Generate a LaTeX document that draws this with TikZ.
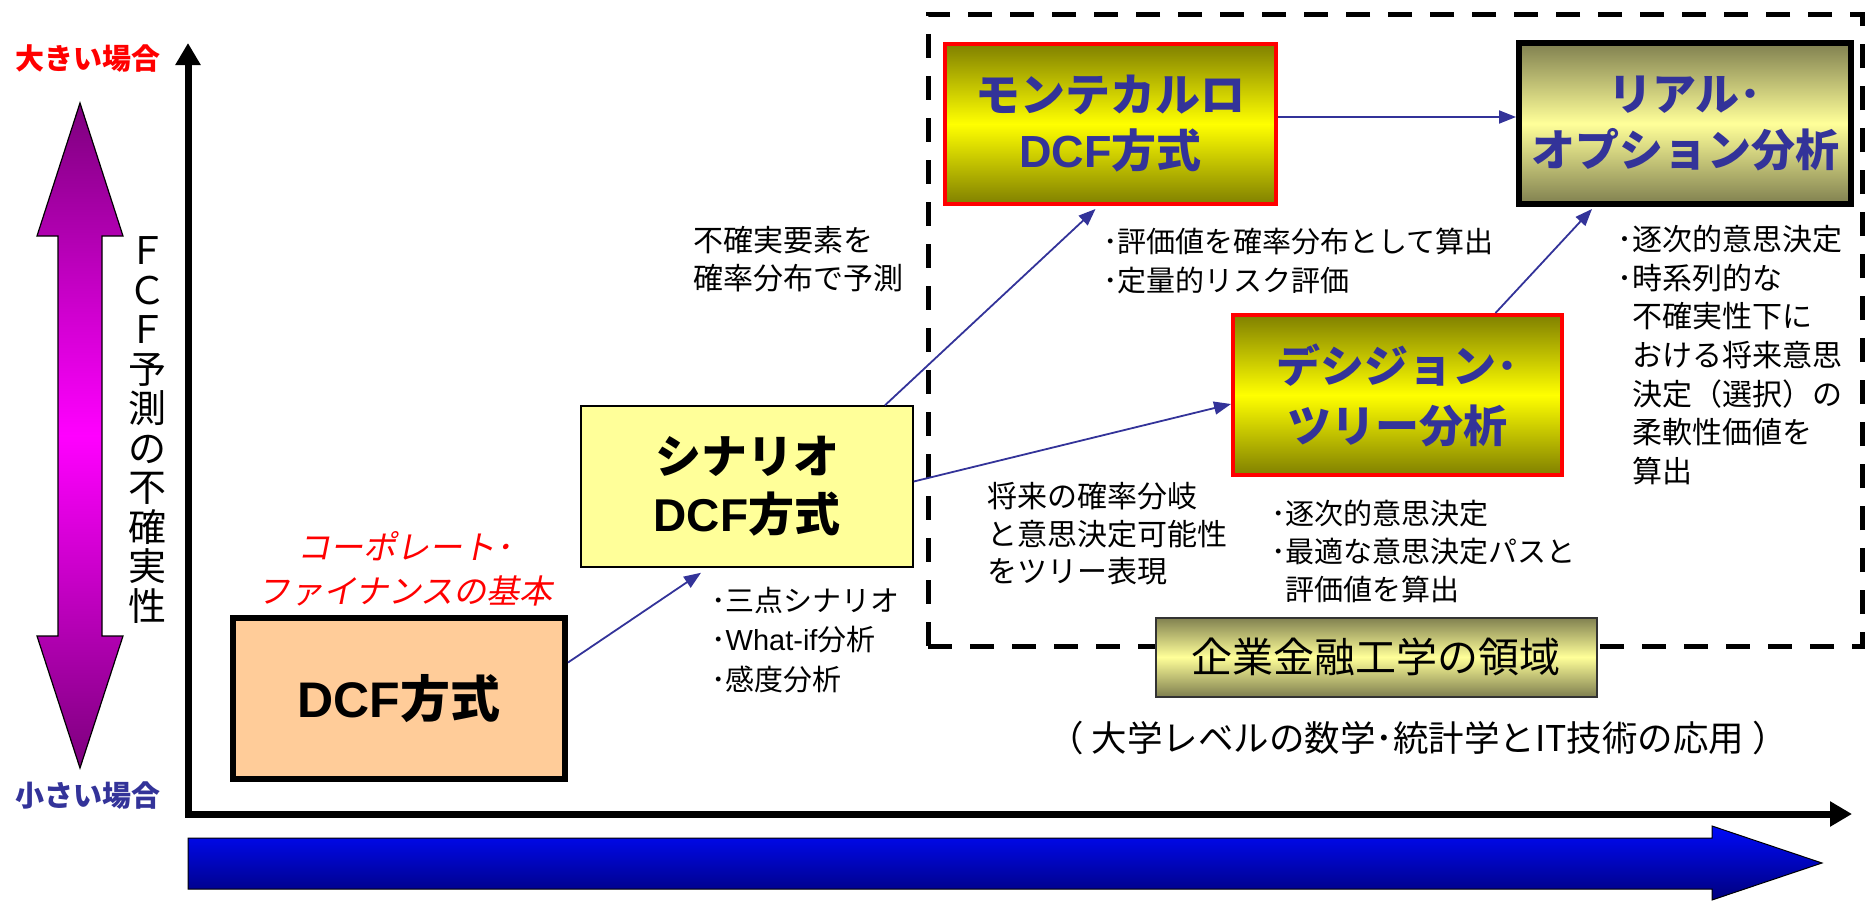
\documentclass[tikz,border=0pt]{standalone}
\usepackage{fontspec}
\setmainfont{Noto Sans CJK JP}
\newfontfamily\lsans{Liberation Sans}
\newfontfamily\jpit{Noto Sans CJK JP}[FakeSlant=0.2]
\usetikzlibrary{arrows.meta}
\definecolor{dblue}{RGB}{51,51,153}
\definecolor{peach}{RGB}{255,204,153}
\definecolor{paleyel}{RGB}{255,255,153}
\definecolor{olive}{RGB}{128,128,0}
\definecolor{olivegray}{RGB}{128,128,80}
\definecolor{purpD}{RGB}{125,0,125}
\definecolor{navyB}{RGB}{0,0,125}
\definecolor{brightB}{RGB}{0,10,250}
\begin{document}
\begin{tikzpicture}[x=1pt,y=-1pt,
  box/.style={rectangle, inner sep=0pt, align=center},
  dcfbox/.style={box, draw=black, line width=6pt, fill=peach, font=\bfseries\fontsize{50}{60}\selectfont},
  scenbox/.style={box, draw=black, line width=1.5pt, fill=paleyel, font=\bfseries\fontsize{46}{58}\selectfont},
  hotbox/.style={box, draw=red, line width=4pt, top color=olive, bottom color=olive, middle color=yellow, text=dblue},
  robox/.style={box, draw=black, line width=6pt, top color=olivegray, bottom color=olivegray, middle color=paleyel, text=dblue, font=\bfseries\fontsize{44}{56}\selectfont},
  areabox/.style={box, draw=black!80, line width=2pt, top color=olivegray, bottom color=olivegray, middle color=paleyel, font=\fontsize{41}{41}\selectfont},
  note/.style={inner sep=0pt, align=left, anchor=west},
  conn/.style={draw=dblue, line width=1.8pt, -{Triangle[length=17pt,width=13pt]}},
  axisline/.style={line width=7pt, {Triangle[length=22pt,width=24pt]}-{Triangle[length=22pt,width=24pt]}}
]
\useasboundingbox (0,0) rectangle (1869,902);

% dashed region
\node[draw=black, line width=5pt, dash pattern=on 24pt off 18pt, minimum width=934pt, minimum height=632pt, inner sep=0pt] (region) at (1395,330) {};

% axes
\coordinate (ytop) at (188,43);
\coordinate (xend) at (1852,814);
\draw[axisline] (ytop) |- (xend);

% blue arrow
\path[draw=black, line width=1pt, top color=brightB, bottom color=navyB]
  (188,838) -- (1712,838) -- (1712,826) -- (1822,863) -- (1712,900) -- (1712,889) -- (188,889) -- cycle;

% purple double arrow
\path[draw=black, line width=1.2pt, top color=purpD, bottom color=purpD, middle color=magenta]
  (80,103) -- (123,236) -- (102,236) -- (102,636) -- (123,636) -- (80,768) -- (37,636) -- (58,636) -- (58,236) -- (37,236) -- cycle;

\node[font=\fontsize{38}{39.5}\selectfont, align=center, inner sep=0pt] (fcf) at (147,430) {Ｆ\\Ｃ\\Ｆ\\予\\測\\の\\不\\確\\実\\性};

\node[font=\bfseries\fontsize{29}{29}\selectfont, text=red, inner sep=0pt] (big) at (88,59) {大きい場合};
\node[font=\bfseries\fontsize{29}{29}\selectfont, text=dblue, inner sep=0pt] (small) at (88,796) {小さい場合};

% boxes
\node[dcfbox, minimum width=332pt, minimum height=161pt] (dcf) at (399,698.5) {{\lsans DCF}方式};
\node[font=\jpit\fontsize{33}{44}\selectfont, text=red, align=center, inner sep=0pt] (corp) at (405,569) {コーポレート･\\ファイナンスの基本};

\node[scenbox, minimum width=332pt, minimum height=161pt] (scen) at (747,486.5) {シナリオ\\{\lsans DCF}方式};
\node[note, font=\fontsize{29}{39.5}\selectfont] (scennote) at (711,640) {･三点シナリオ\\･{\lsans What-if}分析\\･感度分析};

\node[hotbox, font=\bfseries\fontsize{45}{56}\selectfont, minimum width=331pt, minimum height=160pt] (mc) at (1110.5,124) {モンテカルロ\\{\lsans DCF}方式};
\node[robox, minimum width=332pt, minimum height=161pt] (ro) at (1685,123.5) {リアル･\\オプション分析};
\node[hotbox, font=\bfseries\fontsize{44}{60}\selectfont, minimum width=329pt, minimum height=160pt] (dt) at (1397.5,395) {デシジョン･\\ツリー分析};

\node[areabox, minimum width=441pt, minimum height=79pt] (area) at (1376,657) {企業金融工学の領域};
\node[font=\fontsize{35.5}{35.5}\selectfont, inner sep=0pt] (apply) at (1418,738) {（ 大学レベルの数学･統計学とIT技術の応用 ）};

% notes
\node[note, font=\fontsize{30}{38}\selectfont] (uncert) at (693,259) {不確実要素を\\確率分布で予測};
\node[note, font=\fontsize{29}{39}\selectfont] (mcnote) at (1103,260.5) {･評価値を確率分布として算出\\･定量的リスク評価};
\node[note, font=\fontsize{30}{38.6}\selectfont] (ronote) at (1617,355) {･逐次的意思決定\\･時系列的な\\\phantom{･}不確実性下に\\\phantom{･}おける将来意思\\\phantom{･}決定（選択）の\\\phantom{･}柔軟性価値を\\\phantom{･}算出};
\node[note, font=\fontsize{30}{37.5}\selectfont] (treetext) at (987,534) {将来の確率分岐\\と意思決定可能性\\をツリー表現};
\node[note, font=\fontsize{29}{38}\selectfont] (dtnote) at (1271,551) {･逐次的意思決定\\･最適な意思決定パスと\\\phantom{･}評価値を算出};

% connectors
\draw[conn] ([yshift=36pt]dcf.east) -- ([xshift=-46pt,yshift=-5pt]scen.south);
\draw[conn] ([xshift=138pt]scen.north) -- ([xshift=-15pt,yshift=-3pt]mc.south);
\draw[conn] ([yshift=5pt]scen.east) -- ([yshift=-9pt]dt.west);
\coordinate (m1) at ([yshift=7pt]mc.east);
\draw[conn] (m1) -- (m1 -| ro.west);
\draw[conn] ([xshift=98pt]dt.north) -- ([xshift=-93pt,yshift=-2pt]ro.south);
\end{tikzpicture}
\end{document}
